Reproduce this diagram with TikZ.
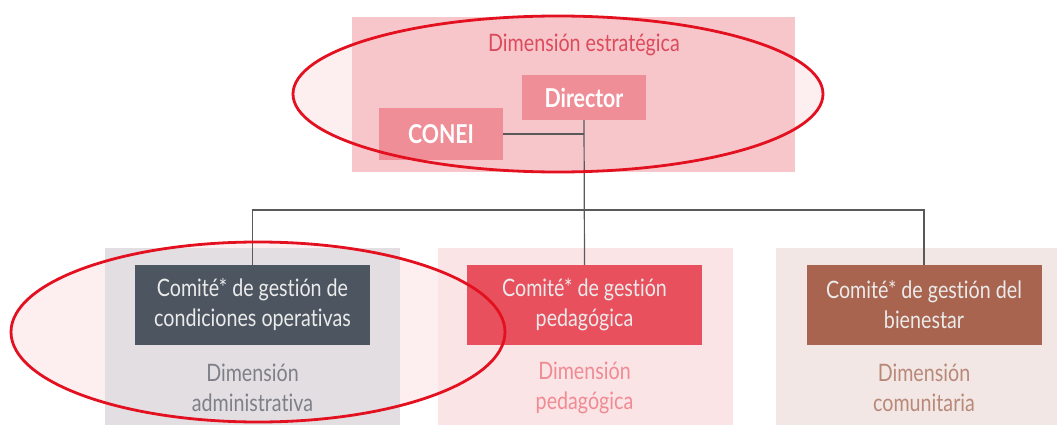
\documentclass[tikz,border=0pt]{standalone}
\usepackage{fontspec}
\setmainfont{Lato}[FakeStretch=0.82, Ligatures=CommonOff]
\definecolor{topbg}{HTML}{F7C6CB}
\definecolor{dirbox}{HTML}{F08E98}
\definecolor{toptext}{HTML}{DC4A5B}
\definecolor{admbg}{HTML}{E2DEE2}
\definecolor{admbox}{HTML}{4D5660}
\definecolor{admtext}{HTML}{7E7F88}
\definecolor{pedbg}{HTML}{FBE4E6}
\definecolor{pedbox}{HTML}{E8505E}
\definecolor{pedtext}{HTML}{F08A93}
\definecolor{bienbg}{HTML}{F2E7E5}
\definecolor{bienbox}{HTML}{A8644F}
\definecolor{bientext}{HTML}{B88878}
\definecolor{ovalred}{HTML}{E3101F}
\tikzset{
  unit/.style={text=white, inner sep=0pt, font=\fontsize{26}{30}\selectfont\bfseries},
  comite/.style={text=white!92!black, inner sep=0pt, align=center, minimum width=235pt, minimum height=80pt, font=\fontsize{24}{30}\selectfont},
  dimlabel/.style={inner sep=0pt, align=center, font=\fontsize{24}{30}\selectfont},
  link/.style={draw=black!65, line width=1.2pt},
  oval/.style={draw=ovalred, line width=2.8pt},
  ovalfill/.style={fill=pedbox, fill opacity=0.09}
}
\begin{document}
\begin{tikzpicture}[x=1pt,y=-1pt]
		%%%%% START %%%%%
		\useasboundingbox (0,0) rectangle (1057,425);
		
		% tint of the ovals
		\fill[ovalfill] (558,94) ellipse [x radius=265, y radius=78];
		\fill[ovalfill] (258,332) ellipse [x radius=247, y radius=90];
		
		% panels
		\fill[topbg] (352,17) rectangle (795,172);
		\fill[admbg] (105,248) rectangle (400,425);
		\fill[pedbg] (438,248) rectangle (733,425);
		\fill[bienbg] (776,248) rectangle (1057,425);
		
		% strategic level
		\node[dimlabel, text=toptext] (strat) at (584,45) {Dimensión estratégica};
		\node[unit, fill=dirbox, minimum width=124pt, minimum height=45pt] (director) at (584,97.5) {Director};
		\node[unit, fill=dirbox, minimum width=124pt, minimum height=52pt] (conei) at (441,134) {CONEI};
		
		% committees
		\node[comite, fill=admbox] (admin) at (252.5,305) {Comité* de gestión de\\condiciones operativas};
		\node[comite, fill=pedbox] (ped) at (584.5,305) {Comité* de gestión\\pedagógica};
		\node[comite, fill=bienbox] (bien) at (924,305) {Comité* de gestión del\\bienestar};
		
		\node[dimlabel, text=admtext] (admdim) at (252.5,388) {Dimensión\\administrativa};
		\node[dimlabel, text=pedtext] (peddim) at (584.5,388) {Dimensión\\pedagógica};
		\node[dimlabel, text=bientext] (biendim) at (924,388) {Dimensión\\comunitaria};
		
		% connectors
		\coordinate (hub) at (584.5,210);
		\draw[link] (conei.east) -- (conei.east -| director.south);
		\draw[link] (director.south) -- (ped.north);
		\draw[link] (admin.north) -- (admin.north |- hub) -- (bien.north |- hub) -- (bien.north);
		
		% highlight ovals
		\draw[oval] (558,94) ellipse [x radius=265, y radius=78];
		\draw[oval] (258,332) ellipse [x radius=247, y radius=90];
		%%%%% END %%%%%
\end{tikzpicture}
\end{document}
